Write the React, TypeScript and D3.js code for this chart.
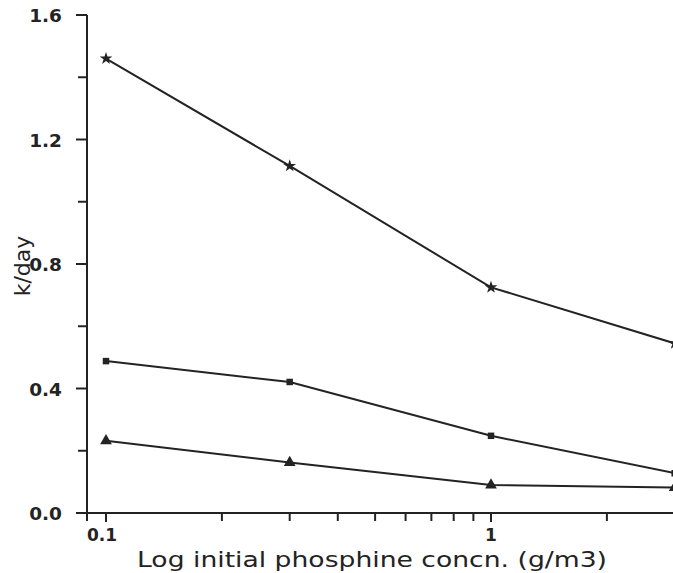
import React from "react";
import * as d3 from "d3";

const concentrations = [0.1, 0.3, 1, 3];
const seriesStar = [1.46, 1.115, 0.725, 0.545];
const seriesSquare = [0.488, 0.421, 0.248, 0.128];
const seriesTriangle = [0.232, 0.162, 0.09, 0.082];
const yTicks = [0.0, 0.4, 0.8, 1.2, 1.6];
const yMinorTicks = [0.2, 0.6, 1.0, 1.4];
const xTickLabels = [
  { v: 0.1, label: "0.1" },
  { v: 1, label: "1" },
];
const xMinorTicks = [0.2, 0.3, 0.4, 0.5, 0.6, 0.7, 0.8, 0.9, 2, 3];

const W = 673;
const H = 573;

export default function App() {
  const x = d3.scaleLog().domain([0.1, 1]).range([106, 491]);
  const y = d3.scaleLinear().domain([0, 1.6]).range([513, 15]);
  const axisX = 87;
  const axisY = 513;
  const ink = "#232323";
  const font = "'DejaVu Sans', 'Liberation Sans', sans-serif";

  const line = d3
    .line<number>()
    .x((_, i) => x(concentrations[i]))
    .y((d) => y(d));

  const series = [
    { values: seriesStar, symbol: d3.symbolStar, size: 50 },
    { values: seriesSquare, symbol: d3.symbolSquare, size: 42 },
    { values: seriesTriangle, symbol: d3.symbolTriangle, size: 60 },
  ];

  return (
    <svg
      width={W}
      height={H}
      style={{ position: "absolute", left: 0, top: 0, background: "#fff" }}
    >
      <rect x={0} y={0} width={W} height={H} fill="#fff" />
      {/* Y axis */}
      <line x1={axisX} x2={axisX} y1={y(1.6)} y2={axisY + 8} stroke={ink} strokeWidth={2} />
      {yTicks.map((t) => (
        <g key={"yt" + t}>
          <line x1={axisX - 11} x2={axisX} y1={y(t)} y2={y(t)} stroke={ink} strokeWidth={2} />
          <text
            x={62}
            y={y(t) + 7}
            textAnchor="end"
            fontFamily={font}
            fontSize={18.5}
            fontWeight={600}
            fill={ink}
          >
            {t.toFixed(1)}
          </text>
        </g>
      ))}
      {yMinorTicks.map((t) => (
        <line key={"ym" + t} x1={axisX - 9} x2={axisX} y1={y(t)} y2={y(t)} stroke={ink} strokeWidth={2} />
      ))}
      {/* X axis */}
      <line x1={axisX - 8} x2={W} y1={axisY} y2={axisY} stroke={ink} strokeWidth={2} />
      {xTickLabels.map((t) => (
        <g key={"xt" + t.v}>
          <line x1={x(t.v)} x2={x(t.v)} y1={axisY} y2={axisY + 9} stroke={ink} strokeWidth={2} />
          <text
            x={x(t.v) - (t.v === 0.1 ? 4 : 0)}
            y={axisY + 28}
            textAnchor="middle"
            fontFamily={font}
            fontSize={17}
            fontWeight={600}
            fill={ink}
          >
            {t.label}
          </text>
        </g>
      ))}
      {xMinorTicks.map((t) => (
        <line key={"xm" + t} x1={x(t)} x2={x(t)} y1={axisY} y2={axisY + 8} stroke={ink} strokeWidth={2} />
      ))}
      {/* Titles */}
      <text
        x={372}
        y={567}
        textAnchor="middle"
        fontFamily={font}
        fontSize={22}
        textLength={470}
        lengthAdjust="spacingAndGlyphs"
        fill={ink}
      >
        Log initial phosphine concn. (g/m3)
      </text>
      <text
        transform={`translate(30, 266) rotate(-90)`}
        textAnchor="middle"
        fontFamily={font}
        fontSize={22}
        fill={ink}
      >
        k/day
      </text>
      {/* Series */}
      {series.map((s, si) => (
        <g key={"s" + si}>
          <path d={line(s.values) || ""} fill="none" stroke={ink} strokeWidth={2} />
          {s.values.map((v, i) => (
            <path
              key={i}
              d={d3.symbol().type(s.symbol).size(s.size)() || ""}
              transform={`translate(${x(concentrations[i])},${y(v)})`}
              fill={ink}
            />
          ))}
        </g>
      ))}
    </svg>
  );
}
